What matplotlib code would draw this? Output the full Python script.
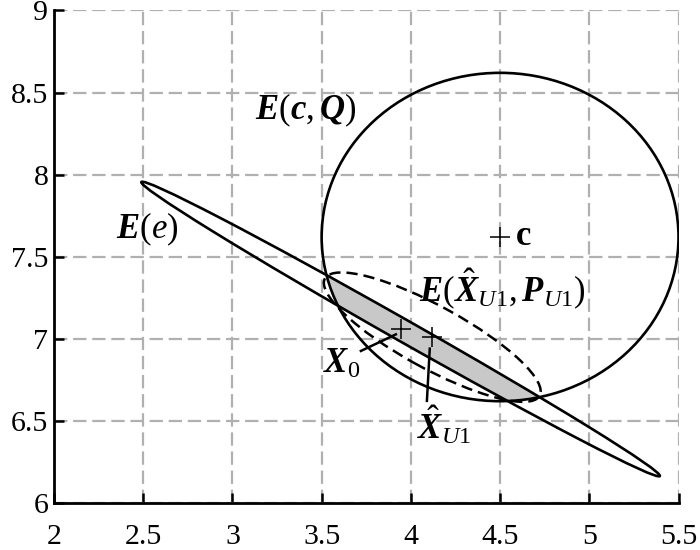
import matplotlib
matplotlib.use("Agg")
import matplotlib.pyplot as plt
from matplotlib.patches import Ellipse
import numpy as np

# Fonts: Times-like serif for ticks and math labels
plt.rcParams["font.family"] = ["Liberation Serif", "DejaVu Serif"]
plt.rcParams["mathtext.fontset"] = "custom"
plt.rcParams["mathtext.rm"] = "Liberation Serif"
plt.rcParams["mathtext.it"] = "Liberation Serif:italic"
plt.rcParams["mathtext.bf"] = "Liberation Serif:bold"
plt.rcParams["mathtext.bfit"] = "Liberation Serif:italic:bold"

# Ellipse E(c, Q): centre c and radius (a circle in data units)
c_center = [4.5, 7.62]
q_radius = 1.0

# Thin ellipse E(e): centre X0, semi-major axis vector, semi-minor length
e_center = [3.9425, 7.0595]
e_major = [1.4525, -0.8955]
e_minor = 0.065

# Dashed ellipse E(X_U1, P_U1)
u_center = [4.12, 7.01]
u_major = [0.60, -0.36]
u_minor = 0.187

# Leader lines for the point labels
x0_leader_x = [3.72, 3.916]
x0_leader_y = [6.926, 7.027]
xu_leader_x = [4.106, 4.09]
xu_leader_y = [6.94, 6.622]

x_ticks = [2, 2.5, 3, 3.5, 4, 4.5, 5, 5.5]
y_ticks = [6, 6.5, 7, 7.5, 8, 8.5, 9]


def make_ellipse(center, major, minor, **kw):
    a = np.hypot(major[0], major[1])
    ang = np.degrees(np.arctan2(major[1], major[0]))
    return Ellipse(center, 2 * a, 2 * minor, angle=ang, **kw)


fig = plt.figure(figsize=(7, 5.5), dpi=100)
ax = fig.add_axes([0.0771, 0.0855, 0.8922, 0.8955])

# grid
ax.set_axisbelow(True)
ax.grid(True, color="#b0b0b0", linewidth=1.6, linestyle=(0, (6, 2.6)))

# shaded intersection of E(e) and E(c,Q)
circle = make_ellipse(c_center, [q_radius, 0], q_radius, fill=False,
                      edgecolor="black", linewidth=1.9, zorder=3)
ax.add_patch(circle)
shade = make_ellipse(e_center, e_major, e_minor, facecolor="#c8c8c8",
                     edgecolor="none", zorder=2)
ax.add_patch(shade)
shade.set_clip_path(circle)

ax.add_patch(make_ellipse(e_center, e_major, e_minor, fill=False,
                          edgecolor="black", linewidth=1.9, zorder=3))
ax.add_patch(make_ellipse(u_center, u_major, u_minor, fill=False,
                          edgecolor="black", linewidth=1.8,
                          linestyle=(0, (4.5, 2.4)), zorder=3))

# centre markers
for pt in [c_center, e_center, u_center]:
    ax.plot([pt[0]], [pt[1]], marker="+", color="black",
            markersize=14, markeredgewidth=1.1, zorder=4)

# leaders
ax.plot(x0_leader_x, x0_leader_y, color="black", linewidth=1.8, zorder=4)
ax.plot(xu_leader_x, xu_leader_y, color="black", linewidth=1.8, zorder=4)

# labels
fs = 25
ax.text(3.125, 8.335, r"$\mathbfit{E}(\mathbfit{c},\mathbfit{Q})$",
        fontsize=fs, ha="left", va="baseline")
ax.text(2.345, 7.615, r"$\mathbfit{E}(\mathit{e})$",
        fontsize=fs, ha="left", va="baseline")
ax.text(4.59, 7.571, "c", fontsize=fs, fontweight="bold",
        ha="left", va="baseline")
ax.text(4.045, 7.224,
        r"$\mathbfit{E}(\hat{\mathbfit{X}}_{\mathit{U}1},\mathbfit{P}_{\mathit{U}1})$",
        fontsize=fs, ha="left", va="baseline")
ax.text(3.51, 6.79, r"$\mathbfit{X}_{0}$", fontsize=fs,
        ha="left", va="baseline")
ax.text(4.035, 6.389, r"$\hat{\mathbfit{X}}_{\mathit{U}1}$", fontsize=fs,
        ha="left", va="baseline")

ax.set_xlim(2, 5.5)
ax.set_ylim(6, 9)
ax.set_xticks(x_ticks)
ax.set_xticklabels([f"{v:g}" for v in x_ticks])
ax.set_yticks(y_ticks)
ax.set_yticklabels([f"{v:g}" for v in y_ticks])

for side in ["top", "right"]:
    ax.spines[side].set_visible(False)
for side in ["left", "bottom"]:
    ax.spines[side].set_linewidth(2)
ax.tick_params(axis="both", direction="in", length=7, width=1.8,
               labelsize=21.5)
ax.tick_params(axis="x", pad=15)
ax.tick_params(axis="y", pad=4)

fig.savefig("out.png", dpi=100)
